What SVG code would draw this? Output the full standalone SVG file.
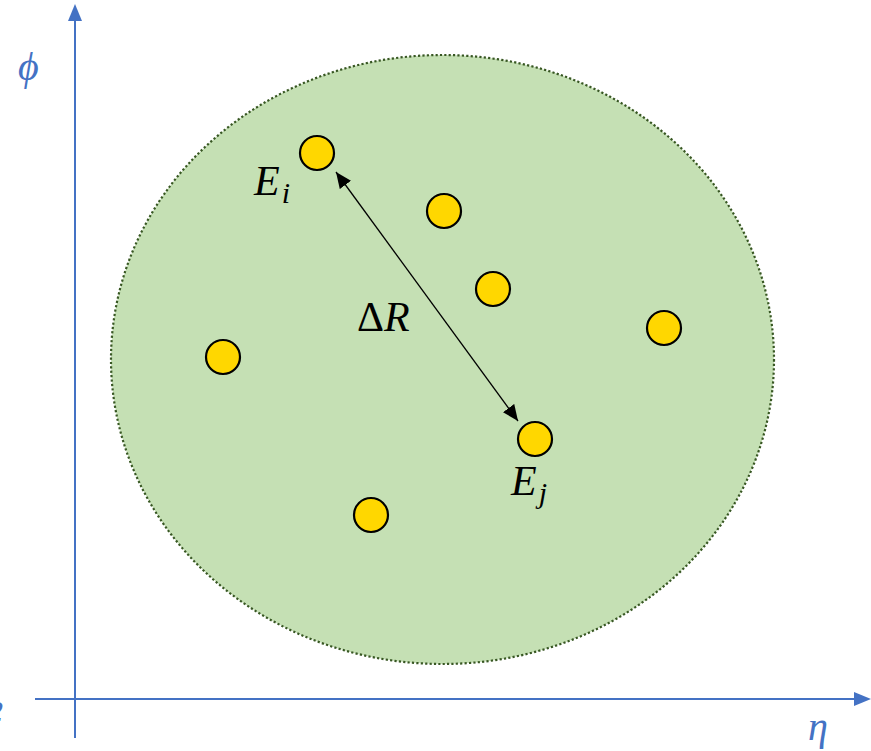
<svg xmlns="http://www.w3.org/2000/svg" width="871" height="751" viewBox="0 0 871 751">
<style>
.ax{stroke:#4472C4;stroke-width:2;fill:none}
.pt{fill:#FFD700;stroke:#000;stroke-width:2.2}
.m{font-family:"Liberation Serif","DejaVu Serif",serif;font-style:italic;fill:#000}
.bl{font-family:"Liberation Serif","DejaVu Serif",serif;font-style:italic;fill:#4472C4}
</style>
<defs>
<marker id="bh" markerWidth="16" markerHeight="14" refX="16" refY="7" orient="auto-start-reverse" markerUnits="userSpaceOnUse" viewBox="0 0 16 14">
<path d="M0,0 L16,7 L0,14 z" fill="#000"/>
</marker>
</defs>
<rect width="871" height="751" fill="#fff"/>
<g id="axes">
<line class="ax" x1="75" y1="738" x2="75" y2="20"/>
<path d="M75,4 L82,21 L68,21 z" fill="#4472C4"/>
<line class="ax" x1="35" y1="699" x2="855" y2="699"/>
<path d="M871,699 L854,692 L854,706 z" fill="#4472C4"/>
<text class="bl" x="18" y="80" font-size="40">ϕ</text>
<text class="bl" x="808" y="740" font-size="40">η</text>
<text class="bl" x="-12" y="721" font-size="30" font-weight="bold" fill="#0563C1">2</text>
</g>
<g id="region">
<ellipse cx="442.5" cy="359.5" rx="331.5" ry="304.5" fill="#C5E0B4" stroke="#385723" stroke-width="2.2" stroke-dasharray="2.2 2.2"/>
</g>
<g id="connectors">
<line x1="336" y1="172" x2="518" y2="421" stroke="#000" stroke-width="1.3" marker-start="url(#bh)" marker-end="url(#bh)"/>
</g>
<g id="p1"><circle class="pt" cx="317" cy="153" r="17"/></g>
<g id="p2"><circle class="pt" cx="444" cy="211" r="17"/></g>
<g id="p3"><circle class="pt" cx="493" cy="289" r="17"/></g>
<g id="p4"><circle class="pt" cx="664" cy="328" r="17"/></g>
<g id="p5"><circle class="pt" cx="223" cy="357" r="17"/></g>
<g id="p6"><circle class="pt" cx="535" cy="439" r="17"/></g>
<g id="p7"><circle class="pt" cx="371" cy="515" r="17"/></g>
<g id="labels">
<text class="m" x="254" y="195" font-size="42">E<tspan font-size="30" dx="2" dy="8">i</tspan></text>
<text class="m" x="357" y="331" font-size="42"><tspan font-style="normal">Δ</tspan>R</text>
<text class="m" x="511" y="495" font-size="42">E<tspan font-size="30" dx="2" dy="8">j</tspan></text>
</g>
</svg>
